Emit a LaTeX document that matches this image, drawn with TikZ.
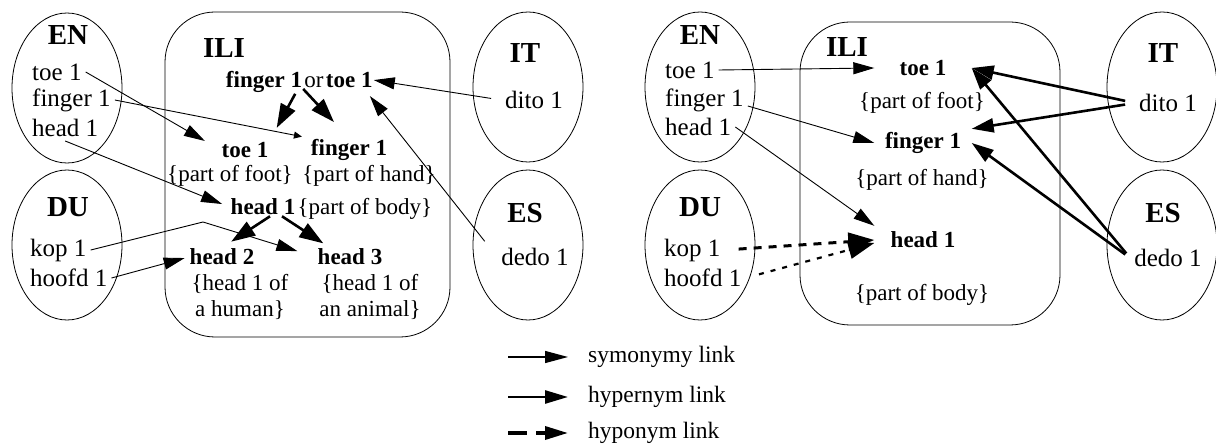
\documentclass[tikz,border=0pt]{standalone}
\usepackage{fontspec}
\setmainfont{Liberation Serif}
\usetikzlibrary{arrows.meta,positioning,shapes.geometric}

\begin{document}
\begin{tikzpicture}[
  x=1pt, y=-1pt,
  lang/.style={ellipse, draw, line width=0.8pt, minimum width=110pt, minimum height=150pt, inner sep=0pt},
  ilibox/.style={draw, line width=0.8pt, rounded corners=50pt},
  tag/.style={font=\fontsize{29}{32}\selectfont\bfseries, inner sep=1pt},
  word/.style={font=\fontsize{25}{28}\selectfont, inner sep=4pt, anchor=west},
  syn/.style={font=\fontsize{23}{26}\selectfont\bfseries, inner sep=1pt},
  synB/.style={syn, minimum width=97pt, minimum height=28pt},
  gloss/.style={font=\fontsize{23}{26}\selectfont, inner sep=1pt, align=center},
  legtext/.style={font=\fontsize{23.5}{26}\selectfont, inner sep=0pt, anchor=west},
  synlink/.style={-{Triangle[length=21pt,width=12pt]}, line width=0.9pt},
  smalllink/.style={-{Triangle[length=8pt,width=7pt]}, line width=0.9pt},
  hyperlink/.style={-{Triangle[length=24pt,width=16pt]}, line width=2.6pt},
  hypolink/.style={-{Triangle[length=26pt,width=18pt]}, line width=3pt, dash pattern=on 8pt off 7pt},
]
\useasboundingbox (0,0) rectangle (1216,446);

% ---- left: ILI with composite record
\draw[ilibox] (165,12) rectangle (450,337);
\node[tag] (iliA) at (224,48) {ILI};
\node[lang] (enA) at (67,88) {};
\node[tag] (enlabA) at (68,35) {EN};
\node[word] (toeA) at (28,72) {toe 1};
\node[word] (fingerA) at (28,100) {finger 1};
\node[word] (headA) at (28,128) {head 1};
\node[lang] (duA) at (67,245) {};
\node[tag] (dulabA) at (68,207) {DU};
\node[word] (kopA) at (26,250) {kop 1};
\node[word] (hoofdA) at (26,278) {hoofd 1};
\node[lang] (itA) at (528,87) {};
\node[tag] (itlabA) at (525,53) {IT};
\node[word, anchor=center] (ditoA) at (534,100) {dito 1};
\node[lang] (esA) at (528,245) {};
\node[tag] (eslabA) at (525,213) {ES};
\node[word, anchor=center] (dedoA) at (535,257) {dedo 1};

\node[syn] (fingerOr) at (264,82) {finger 1};
\node[gloss, anchor=base west] (orA) at (fingerOr.base east) {or};
\node[syn, anchor=base west] (toeOr) at (orA.base east) {toe 1};
\node[syn] (toeI) at (245,150) {toe 1};
\node[gloss] (footI) at (230,176) {\{part of foot\}};
\node[syn] (fingerI) at (349,150) {finger 1};
\node[gloss] (handI) at (369,176) {\{part of hand\}};
\node[syn] (headI) at (263,207) {head 1};
\node[gloss, anchor=base west] (bodyI) at (headI.base east) {\{part of body\}};
\node[syn] (head2A) at (222,257) {head 2};
\node[gloss] (human) at (240,297) {\{head 1 of\\a human\}};
\node[syn] (head3A) at (350,257) {head 3};
\node[gloss] (animal) at (370,297) {\{head 1 of\\an animal\}};
\coordinate (bendA) at (203,222);

\draw[synlink, shorten >=18pt] (toeA.east) -- (toeI.west);
\draw[smalllink, shorten >=8pt] (fingerA.east) -- (fingerI.north west);
\draw[synlink, shorten >=8pt] (headA.south) -- (headI.west);
\draw[synlink, shorten >=20pt] (kopA.east) -- (bendA) -- (head3A.west);
\draw[synlink, shorten >=4pt] (hoofdA.east) -- (head2A.west);
\draw[synlink, shorten <=10pt] (ditoA.west) -- (toeOr.east);
\draw[synlink, shorten <=20pt, shorten >=9pt] (dedoA.west) -- ([xshift=15pt]toeOr.south);
\draw[hyperlink, shorten >=15pt] ([xshift=-8pt]fingerOr.south east) -- (toeI.north east);
\draw[hyperlink, shorten >=22pt] (orA.south west) -- (fingerI.north);
\draw[hyperlink, shorten >=11pt] ([xshift=7pt]headI.south) -- (head2A.north);
\draw[hyperlink, shorten >=8pt] ([xshift=19pt]headI.south) -- ([xshift=-20pt]head3A.north);

% ---- right: ILI with separate records
\draw[ilibox] (800,22) rectangle (1060,325);
\node[tag] (iliB) at (847,47) {ILI};
\node[lang] (enB) at (700,87) {};
\node[tag] (enlabB) at (700,35) {EN};
\node[word] (toeB) at (661,70) {toe 1};
\node[word] (fingerB) at (661,100) {finger 1};
\node[word] (headB) at (661,127) {head 1};
\node[lang] (duB) at (700,245) {};
\node[tag] (dulabB) at (700,207) {DU};
\node[word] (kopB) at (660,250) {kop 1};
\node[word] (hoofdB) at (660,278) {hoofd 1};
\node[lang] (itB) at (1162,87) {};
\node[tag] (itlabB) at (1163,53) {IT};
\node[word, anchor=center] (ditoB) at (1168,103) {dito 1};
\node[lang] (esB) at (1162,245) {};
\node[tag] (eslabB) at (1163,213) {ES};
\node[word, anchor=center] (dedoB) at (1168,258) {dedo 1};

\node[synB] (toeIB) at (923,68) {toe 1};
\node[gloss] (footIB) at (922,103) {\{part of foot\}};
\node[synB] (fingerIB) at (923,143) {finger 1};
\node[gloss] (handIB) at (922,180) {\{part of hand\}};
\node[synB] (headIB) at (923,240) {head 1};
\node[gloss] (bodyIB) at (922,295) {\{part of body\}};

\draw[synlink] (toeB.east) -- (toeIB.west);
\draw[synlink] ([yshift=-6pt]fingerB.east) -- (fingerIB.west);
\draw[synlink] (headB.east) -- (headIB.north west);
\draw[hypolink, shorten <=14pt] (kopB.east) -- (headIB.west);
\draw[hypolink, line width=2.2pt, dash pattern=on 5pt off 7pt, shorten <=14pt] (hoofdB.east) -- ([yshift=-3pt]headIB.west);
\draw[hyperlink, -{Triangle[length=22pt,width=14pt]}, shorten <=10pt] (ditoB.west) -- (toeIB.east);
\draw[hyperlink, -{Triangle[length=22pt,width=14pt]}, shorten <=10pt] (ditoB.west) -- (fingerIB.north east);
\draw[hyperlink, -{Triangle[length=22pt,width=14pt]}, shorten <=6pt] (dedoB.west) -- (toeIB.east);
\draw[hyperlink, -{Triangle[length=22pt,width=14pt]}, shorten <=6pt] (dedoB.west) -- (fingerIB.east);

% ---- legend
\node[legtext] (synL) at (588,357) {symonymy link};
\node[legtext] (hyperL) at (588,397) {hypernym link};
\node[legtext] (hypoL) at (588,433) {hyponym link};
\coordinate (synS) at (508,357);
\coordinate (synE) at (568,357);
\coordinate (hyperS) at (508,397);
\coordinate (hyperE) at (568,397);
\coordinate (hypoS) at (508,433);
\coordinate (hypoE) at (568,433);
\draw[synlink, -{Triangle[length=23pt,width=12pt]}, line width=1.3pt] (synS) -- (synE);
\draw[hyperlink, -{Triangle[length=23pt,width=13pt]}] (hyperS) -- (hyperE);
\draw[hypolink, -{Triangle[length=23pt,width=13pt]}, line width=3.5pt, dash pattern=on 19pt off 9pt] (hypoS) -- (hypoE);
\end{tikzpicture}
\end{document}
